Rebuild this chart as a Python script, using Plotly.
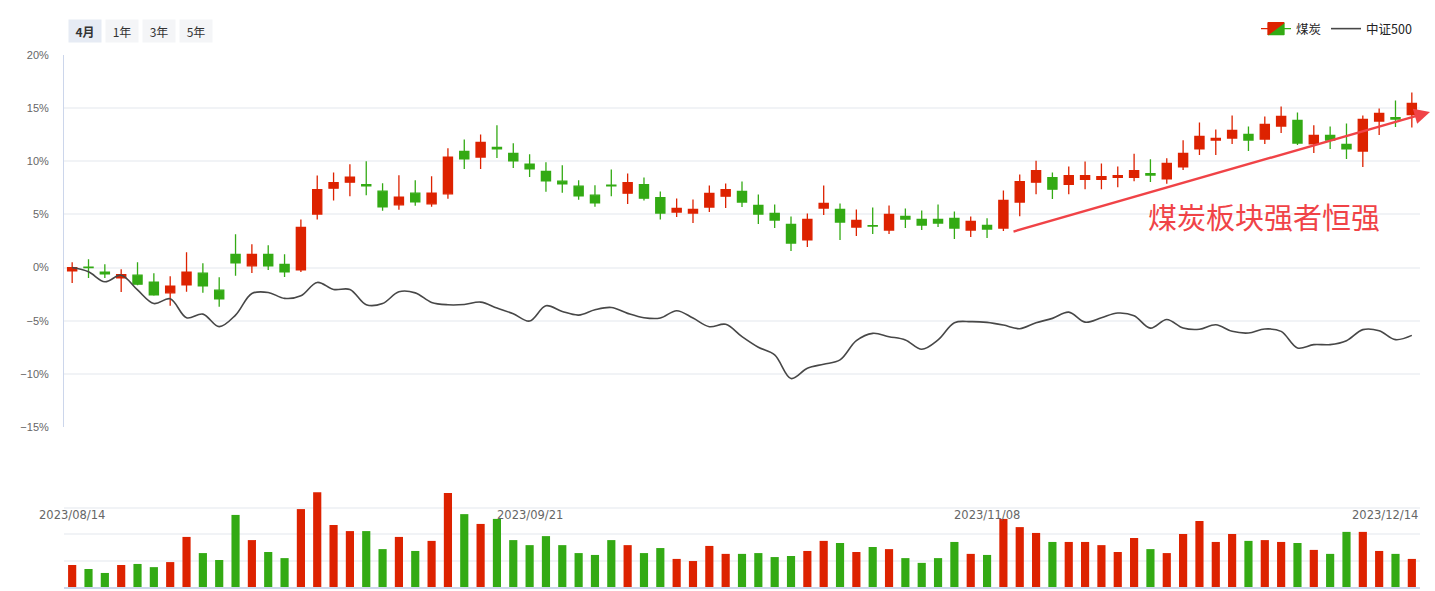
import plotly.graph_objects as go
import pandas as pd

# ---------------- data ----------------
holidays = ["2023-09-29", "2023-10-02", "2023-10-03", "2023-10-04", "2023-10-05", "2023-10-06"]
dates = [d.strftime("%Y/%m/%d") for d in pd.bdate_range("2023-08-14", "2023-12-14")
         if d.strftime("%Y-%m-%d") not in holidays]

coal_open = [-0.3, 0.05, -0.44, -0.97, -0.72, -1.38, -2.38, -1.63, -0.53, -2.13,
             1.25, 0.16, 1.25, 0.31, -0.22, 5.03, 7.47, 8.03, 7.8, 7.19,
             5.9, 7.0, 6.0, 6.94, 10.94, 10.4, 11.3, 10.75, 9.72, 9.06,
             8.13, 7.66, 6.81, 7.75, 7.0, 7.81, 6.59, 5.22, 5.13, 5.69,
             6.72, 7.16, 5.84, 5.09, 4.06, 2.6, 5.6, 5.47, 3.81, 3.95,
             3.53, 4.81, 4.53, 4.53, 4.63, 3.53, 3.97, 3.72, 6.16, 8.03,
             8.47, 7.84, 8.31, 8.31, 8.5, 8.5, 8.84, 8.34, 9.47, 11.16,
             12.0, 12.19, 12.53, 12.09, 13.31, 13.84, 11.63, 12.44, 11.59, 10.97,
             13.78, 14.1, 14.4]
coal_close = [0.0, 0.0, -0.6, -0.66, -1.56, -2.56, -1.75, -0.44, -1.72, -2.94,
              0.44, 1.25, 0.16, -0.41, 3.78, 7.34, 8.0, 8.5, 7.7, 5.72,
              6.63, 6.19, 7.0, 10.38, 10.22, 11.78, 11.16, 10.03, 9.28, 8.16,
              7.88, 6.75, 6.09, 7.7, 8.0, 6.53, 5.13, 5.56, 5.47, 6.97,
              7.34, 6.16, 5.03, 4.47, 2.31, 4.53, 6.03, 4.28, 4.44, 3.9,
              5.0, 4.56, 4.0, 4.19, 3.72, 4.34, 3.63, 6.31, 8.09, 9.13,
              7.38, 8.66, 8.66, 8.56, 8.66, 9.13, 8.7, 9.81, 10.75, 12.34,
              12.16, 12.9, 12.0, 13.47, 14.22, 11.72, 12.44, 12.0, 11.16, 13.94,
              14.5, 13.97, 15.44]
coal_high = [0.5, 0.78, 0.31, -0.16, 0.5, -0.53, -0.81, 1.44, 0.4, -0.9,
             3.13, 2.19, 2.1, 1.25, 4.53, 8.66, 8.94, 9.72, 10.0, 7.94,
             8.69, 8.22, 8.6, 11.22, 12.06, 12.53, 13.38, 11.69, 10.66, 9.9,
             9.63, 8.22, 7.75, 9.22, 8.84, 8.47, 7.16, 6.5, 6.4, 7.72,
             7.9, 8.1, 6.88, 5.94, 4.81, 5.09, 7.72, 6.03, 5.47, 5.66,
             5.84, 5.56, 5.38, 5.94, 5.28, 4.81, 4.63, 7.25, 8.75, 10.06,
             8.94, 9.5, 9.97, 9.78, 9.5, 10.72, 10.18, 10.28, 11.97, 13.66,
             13.0, 14.31, 13.28, 14.22, 15.16, 14.59, 13.38, 13.28, 13.56, 14.31,
             14.97, 15.72, 16.47]
coal_low = [-1.45, -0.97, -0.97, -2.3, -1.66, -2.66, -3.6, -2.28, -2.38, -3.69,
            -0.78, -0.5, -0.22, -0.88, -0.41, 4.53, 6.31, 6.72, 6.8, 5.34,
            5.44, 5.81, 5.72, 6.47, 9.28, 9.28, 10.3, 9.38, 8.53, 7.13,
            7.03, 6.38, 5.72, 6.72, 5.97, 6.31, 4.53, 4.75, 4.19, 5.22,
            5.6, 5.69, 4.09, 3.72, 1.56, 1.94, 4.94, 2.6, 2.97, 3.16,
            3.16, 3.72, 3.53, 3.81, 2.69, 2.88, 2.78, 3.44, 4.84, 6.9,
            6.44, 6.9, 7.38, 7.38, 7.56, 8.13, 8.04, 7.88, 9.19, 10.59,
            10.59, 11.63, 10.97, 11.63, 12.66, 11.53, 10.78, 11.16, 10.22, 9.47,
            12.47, 13.22, 13.19]
csi500 = [0.0, -0.4, -1.34, -0.72, -2.1, -3.38, -2.94, -4.72, -4.38, -5.56,
          -4.47, -2.44, -2.34, -2.9, -2.66, -1.4, -2.06, -2.06, -3.5, -3.38,
          -2.28, -2.38, -3.28, -3.5, -3.47, -3.25, -3.81, -4.34, -5.03, -3.59,
          -4.13, -4.47, -3.97, -3.75, -4.31, -4.72, -4.75, -4.06, -4.75, -5.56,
          -5.34, -6.5, -7.5, -8.22, -10.44, -9.47, -9.09, -8.69, -6.88, -6.19,
          -6.5, -6.81, -7.69, -6.81, -5.19, -5.09, -5.16, -5.41, -5.75, -5.19,
          -4.78, -4.19, -5.13, -4.72, -4.28, -4.53, -5.7, -4.88, -5.69, -5.81,
          -5.38, -6.0, -6.16, -5.78, -6.0, -7.56, -7.25, -7.25, -6.88, -5.84,
          -5.94, -6.78, -6.38]
volume = [0.83, 0.68, 0.53, 0.83, 0.87, 0.75, 0.94, 1.89, 1.28, 1.02,
          2.72, 1.77, 1.32, 1.09, 2.94, 3.58, 2.34, 2.11, 2.11, 1.43,
          1.89, 1.36, 1.74, 3.55, 2.75, 2.38, 2.57, 1.77, 1.58, 1.92,
          1.58, 1.28, 1.21, 1.77, 1.58, 1.28, 1.47, 1.06, 0.98, 1.55,
          1.25, 1.25, 1.28, 1.13, 1.17, 1.36, 1.74, 1.66, 1.32, 1.51,
          1.43, 1.09, 0.91, 1.09, 1.70, 1.25, 1.21, 2.57, 2.26, 2.04,
          1.70, 1.70, 1.70, 1.58, 1.32, 1.85, 1.43, 1.28, 2.0, 2.49,
          1.70, 2.0, 1.74, 1.77, 1.70, 1.66, 1.40, 1.25, 2.08, 2.08,
          1.36, 1.25, 1.06]

y_tickvals = [-15, -10, -5, 0, 5, 10, 15, 20]
y_ticktext = ["\u221215%", "\u221210%", "\u22125%", "0%", "5%", "10%", "15%", "20%"]
date_labels = ["2023/08/14", "2023/09/21", "2023/11/08", "2023/12/14"]
period_buttons = ["4月", "1年", "3年", "5年"]

# ---------------- style ----------------
RED = "#dd2200"
GREEN = "#33aa14"
GRID = "#f1f3f6"
AXIS = "#ccd6eb"
FONT = "Liberation Sans, Arial, Noto Sans CJK SC, sans-serif"
CJK = "Noto Sans CJK SC, sans-serif"

W, H = 1435, 591
ML, MR, MT, MB = 64, 15, 55, 4
PW, PH = W - ML - MR, H - MT - MB


def px(xp):
    return (xp - ML) / PW


def py(yp):
    return (H - MB - yp) / PH


vol_colors = [RED if c >= o else GREEN for o, c in zip(coal_open, coal_close)]

fig = go.Figure()
fig.add_trace(go.Candlestick(
    x=dates, open=coal_open, high=coal_high, low=coal_low, close=coal_close,
    name="煤炭", xaxis="x", yaxis="y",
    increasing=dict(line=dict(color=RED, width=1.3), fillcolor=RED),
    decreasing=dict(line=dict(color=GREEN, width=1.3), fillcolor=GREEN),
    hoverinfo="skip",
))
fig.add_trace(go.Scatter(
    x=dates, y=csi500, name="中证500", mode="lines", xaxis="x", yaxis="y",
    line=dict(color="#474747", width=1.6, shape="spline", smoothing=1.0),
    hoverinfo="skip",
))
fig.add_trace(go.Bar(
    x=dates, y=volume, marker=dict(color=vol_colors, line=dict(width=0)),
    xaxis="x2", yaxis="y2", showlegend=False, hoverinfo="skip",
))

annotations = []
# date labels inside volume panel
for lab in date_labels:
    idx = dates.index(lab)
    a = dict(x=dates[idx], xref="x2", y=py(515), yref="paper", text=lab,
             showarrow=False, font=dict(family="DejaVu Sans, sans-serif", size=11.5, color="#666"),
             xanchor="center", yanchor="middle")
    if idx == len(dates) - 1:
        a.update(xanchor="right", xshift=8)
    annotations.append(a)

# period buttons
for k, lab in enumerate(period_buttons):
    cx = 85 + 37 * k
    annotations.append(dict(
        x=px(cx), y=py(31), xref="paper", yref="paper", text=("<b>%s</b>" % lab) if k == 0 else lab,
        showarrow=False, width=32, height=22, borderpad=0,
        bgcolor="#e6ebf4" if k == 0 else "#f4f5f7",
        font=dict(family=CJK, size=12, color="#333"), xanchor="center", yanchor="middle",
    ))

# trend arrow
annotations.append(dict(
    x=px(1430), y=py(112), xref="paper", yref="paper", ax=1012 - 1430, ay=232 - 112,
    axref="pixel", ayref="pixel", showarrow=True, arrowhead=2, arrowsize=1.3, arrowwidth=2.4,
    arrowcolor="#f04347", standoff=0, text="",
))
annotations.append(dict(
    x=px(1264), y=py(216), xref="paper", yref="paper", text="煤炭板块强者恒强",
    showarrow=False, font=dict(family=CJK, size=29, color="#f04347"),
    xanchor="center", yanchor="middle",
))

fig.update_layout(
    width=W, height=H,
    margin=dict(l=ML, r=MR, t=MT, b=MB, autoexpand=False),
    paper_bgcolor="white", plot_bgcolor="white",
    font=dict(family=FONT, size=11, color="#666"),
    showlegend=True,
    legend=dict(orientation="h", x=px(1417), xanchor="right", y=py(29), yanchor="middle",
                font=dict(family=CJK, size=12.5, color="#222"), bgcolor="rgba(0,0,0,0)",
                itemclick=False),
    boxgap=0.2,
    bargap=0.5,
    xaxis=dict(domain=[0, 1], anchor="y", type="category", range=[-0.5, len(dates) - 0.5],
               showticklabels=False, showgrid=False, zeroline=False, showline=False, ticks="",
               rangeslider=dict(visible=False), fixedrange=True),
    yaxis=dict(domain=[py(427), 1], anchor="x", range=[-15, 20], tickvals=y_tickvals, ticktext=y_ticktext,
               showgrid=True, gridcolor=GRID, gridwidth=1.5, zeroline=False,
               showline=True, linecolor=AXIS, linewidth=1, ticks="", ticklabelstandoff=12,
               tickfont=dict(size=11, color="#666"), fixedrange=True),
    xaxis2=dict(domain=[0, 1], anchor="y2", type="category", range=[-0.5, len(dates) - 0.5],
                showticklabels=False, showgrid=False, zeroline=False, showline=True,
                linecolor=AXIS, linewidth=1.5, ticks="", fixedrange=True),
    yaxis2=dict(domain=[0, py(481)], anchor="x2", range=[0, 4], dtick=1, showticklabels=False,
                showgrid=True, gridcolor=GRID, gridwidth=1.5, zeroline=False, showline=False,
                ticks="", fixedrange=True),
    annotations=annotations,
)

fig.write_html("out.html")
